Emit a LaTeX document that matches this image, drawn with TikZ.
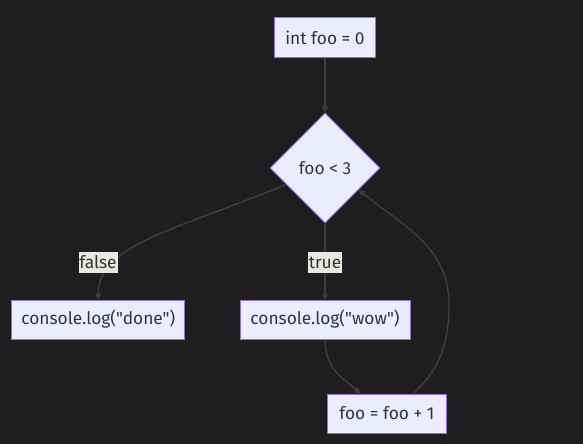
\documentclass[tikz,border=0pt]{standalone}
\usepackage{fontspec}
\setmainfont{Fira Sans}[Ligatures=TeXOff]
\usetikzlibrary{shapes.geometric,arrows.meta}

\definecolor{bgcol}{RGB}{30,30,33}
\definecolor{nodefill}{HTML}{ECECFF}
\definecolor{nodeline}{HTML}{9370DB}
\definecolor{edgecol}{RGB}{62,62,64}
\definecolor{labelfill}{HTML}{E8E8E2}
\definecolor{textcol}{HTML}{333333}

\tikzset{
  box/.style={draw=nodeline, fill=nodefill, line width=0.75pt, text=textcol,
    minimum height=29.25pt, inner xsep=0pt, font=\fontsize{13}{15}\selectfont},
  decision/.style={diamond, draw=nodeline, fill=nodefill, line width=0.75pt, text=textcol,
    minimum width=82.5pt, minimum height=82.5pt, inner sep=0pt, font=\fontsize{13}{15}\selectfont},
  edge/.style={draw=edgecol, line width=1.1pt, -{Triangle[length=4.5pt,width=4.5pt]}},
  edgelabel/.style={fill=labelfill, text=textcol, inner xsep=0pt, inner ysep=0pt,
    minimum height=15.75pt, font=\fontsize{13}{15}\selectfont},
}

\begin{document}
\begin{tikzpicture}[x=0.75pt,y=0.75pt]
    % Dark backdrop, fixes the page size
    \fill[bgcol] (0,0) rectangle (583,444);
    \useasboundingbox (0,0) rectangle (583,444);

    % Steps of the flow
    \node[box, minimum width=75.75pt] (init) at (325,406.5) {int foo = 0}; % Start
    \node[decision] (cond) at (325,276) {foo < 3}; % Test
    \node[box, minimum width=129.75pt] (done) at (98.3,124.5) {console.log("done")}; % Exit
    \node[box, minimum width=127.5pt] (wow) at (325,124.5) {console.log("wow")}; % Body
    \node[box, minimum width=89.25pt] (inc) at (386.9,30.5) {foo = foo + 1}; % Step

    % Turning point of the loop
    \coordinate (back) at (449,140);

    % Connectors
    \draw[edge] (init) -- (cond);
    \draw[edge] (cond) .. controls (180,215) and (98,200) .. (done);
    \draw[edge] (cond) -- (wow);
    \draw[edge] (wow) .. controls (325,75) and (343,66) .. (inc.143);
    \draw[edge] (inc.37) to[out=43,in=-90] (back) to[out=90,in=-39] (cond.-33);

    % Branch labels
    \node[edgelabel, minimum width=29.25pt] (lfalse) at (98,181.5) {false}; % No
    \node[edgelabel, minimum width=25.5pt] (ltrue) at (325,181.5) {true}; % Yes
\end{tikzpicture}
\end{document}
